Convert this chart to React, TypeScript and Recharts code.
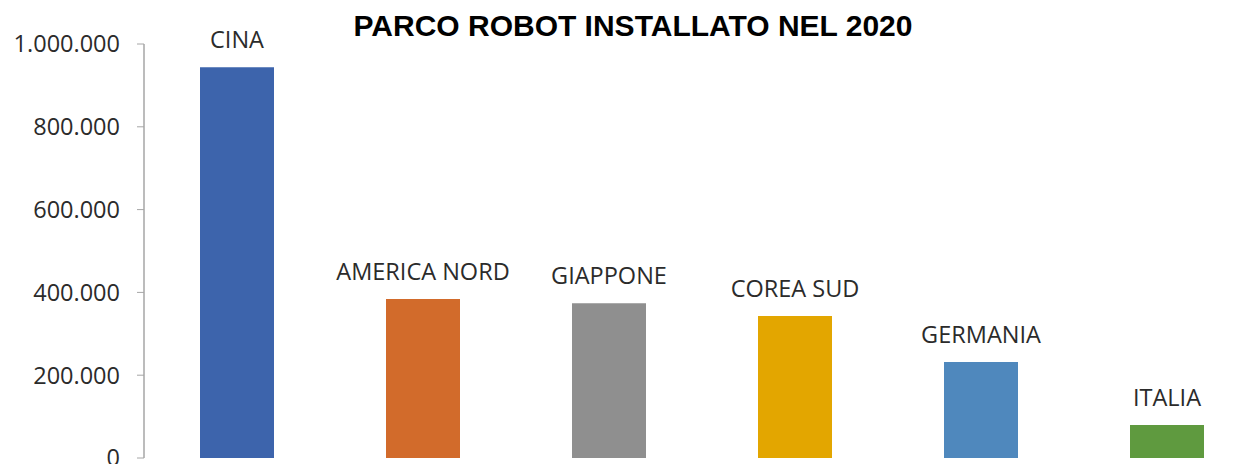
import { BarChart, Bar, XAxis, YAxis, Cell, LabelList } from 'recharts'

const countries = ['CINA', 'AMERICA NORD', 'GIAPPONE', 'COREA SUD', 'GERMANIA', 'ITALIA']
const robots = [944000, 384000, 374000, 343000, 232000, 80000]
const barColors = ['#3D64AC', '#D26B2B', '#8F8F8F', '#E3A600', '#4F88BD', '#5F9A3F']
const yTicks = [0, 200000, 400000, 600000, 800000, 1000000]

const data = countries.map((name, i) => ({ name, value: robots[i] }))

const fmt = (v: number) => v.toLocaleString('de-DE')

const FONT = '"Open Sans", sans-serif'
const TEXT_COLOR = '#2b2b2b'

// country name above each bar, no wrapping
function TopLabel(props: any) {
  const { x, y, width, value } = props
  return (
    <text
      x={x + width / 2}
      y={y - 19}
      textAnchor="middle"
      fontFamily={FONT}
      fontSize={23.5}
      fill={TEXT_COLOR}
    >
      {value}
    </text>
  )
}

export default function App() {
  return (
    <div
      style={{
        position: 'fixed',
        left: 0,
        top: 0,
        width: 1248,
        height: 464,
        overflow: 'hidden',
        background: '#fff',
      }}
    >
      <BarChart
        width={1260}
        height={464}
        data={data}
        margin={{ top: 44, right: 0, bottom: 6, left: 0 }}
      >
        <XAxis
          dataKey="name"
          height={0}
          tick={false}
          tickLine={false}
          axisLine={{ stroke: '#a6a6a6', strokeWidth: 1.5 }}
        />
        <YAxis
          width={144}
          domain={[0, 1000000]}
          ticks={yTicks}
          interval={0}
          tickFormatter={fmt}
          tickSize={7}
          tickMargin={17}
          axisLine={{ stroke: '#a6a6a6', strokeWidth: 1.5 }}
          tickLine={{ stroke: '#a6a6a6' }}
          tick={{ fontFamily: FONT, fontSize: 23.5, fill: TEXT_COLOR }}
        />
        <Bar dataKey="value" barSize={74} isAnimationActive={false}>
          {data.map((d, i) => (
            <Cell key={d.name} fill={barColors[i]} />
          ))}
          <LabelList dataKey="name" content={TopLabel} />
        </Bar>
      </BarChart>
      <div
        style={{
          position: 'absolute',
          left: 333,
          top: 9,
          width: 600,
          textAlign: 'center',
          fontFamily: '"Liberation Sans", Arial, sans-serif',
          fontWeight: 'bold',
          fontSize: 30,
          color: '#000',
          whiteSpace: 'nowrap',
        }}
      >
        PARCO ROBOT INSTALLATO NEL 2020
      </div>
    </div>
  )
}
